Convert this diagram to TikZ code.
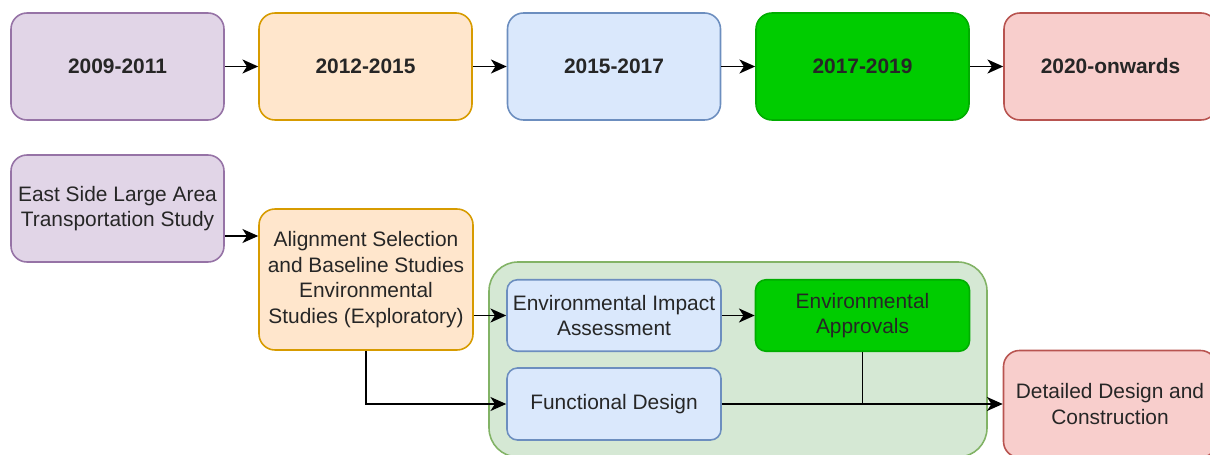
\documentclass[tikz,border=0pt]{standalone}
\usepackage{fontspec}
\setmainfont{Liberation Sans}
\usetikzlibrary{arrows.meta,positioning}
\definecolor{purplefill}{HTML}{E1D5E7}
\definecolor{purpleline}{HTML}{9673A6}
\definecolor{orangefill}{HTML}{FFE6CC}
\definecolor{orangeline}{HTML}{D79B00}
\definecolor{bluefill}{HTML}{DAE8FC}
\definecolor{blueline}{HTML}{6C8EBF}
\definecolor{brightgreen}{HTML}{00CC00}
\definecolor{redfill}{HTML}{F8CECC}
\definecolor{redline}{HTML}{B85450}
\definecolor{groupfill}{HTML}{D5E8D4}
\definecolor{groupline}{HTML}{82B366}
\definecolor{labeltext}{HTML}{262626}

\tikzset{
  yearbox/.style={rounded corners=0.32cm, line width=0.9pt, minimum width=4.26cm, minimum height=2.14cm, align=center, inner sep=2pt, text=labeltext, font=\fontsize{11.9}{14.6}\selectfont\bfseries},
  stagebox/.style={rounded corners=0.32cm, line width=0.9pt, minimum width=4.26cm, minimum height=2.14cm, align=center, inner sep=2pt, text=labeltext},
  smallbox/.style={stagebox, rounded corners=0.21cm, minimum width=4.28cm, minimum height=1.43cm},
  link/.style={->, line width=1pt, black}
}

\begin{document}
\begin{tikzpicture}[font=\fontsize{11.9}{14.6}\selectfont, >={Stealth[length=9pt,width=8pt,inset=2.6pt]}]
\useasboundingbox (0,0) rectangle (24.2,-9.1);

% timeline
\node[yearbox, draw=purpleline, fill=purplefill] (y09) at (2.35,-1.33) {2009-2011};
\node[yearbox, draw=orangeline, fill=orangefill] (y12) at (7.31,-1.33) {2012-2015};
\node[yearbox, draw=blueline, fill=bluefill] (y15) at (12.28,-1.33) {2015-2017};
\node[yearbox, draw=brightgreen!85!black, fill=brightgreen] (y17) at (17.25,-1.33) {2017-2019};
\node[yearbox, draw=redline, fill=redfill] (y20) at (22.21,-1.33) {2020-onwards};

\draw[link] (y09) -- (y12);
\draw[link] (y12) -- (y15);
\draw[link] (y15) -- (y17);
\draw[link] (y17) -- (y20);

% stages
\node[draw=groupline, fill=groupfill, rounded corners=0.58cm, line width=0.9pt, minimum width=9.96cm, minimum height=3.9cm] (phase) at (14.76,-7.19) {};

\node[stagebox, draw=purpleline, fill=purplefill] (eslats) at (2.35,-4.17) {East Side Large Area\\Transportation Study};
\node[stagebox, draw=orangeline, fill=orangefill, minimum width=4.28cm, minimum height=2.82cm] (align) at (7.32,-5.59) {Alignment Selection\\and Baseline Studies\\Environmental\\Studies (Exploratory)};
\node[smallbox, draw=blueline, fill=bluefill] (eia) at (12.28,-6.31) {Environmental Impact\\Assessment};
\node[smallbox, draw=brightgreen!85!black, fill=brightgreen] (ea) at (17.25,-6.31) {Environmental\\Approvals};
\node[smallbox, draw=blueline, fill=bluefill, minimum height=1.44cm] (fd) at (12.28,-8.08) {Functional Design};
\node[stagebox, draw=redline, fill=redfill] (ddc) at (22.2,-8.08) {Detailed Design and\\Construction};

\draw[link] ([yshift=-0.55cm]eslats.east) -- ([yshift=-0.55cm]eslats.east -| align.west);
\draw[link] (align.east |- eia.west) -- (eia.west);
\draw[link] (eia) -- (ea);
\draw[link] (align.south) |- (fd.west);
\draw[link] (fd.east) -- (fd.east -| ddc.west);
\draw[line width=1pt] (ea.south) -- (ea.south |- fd.east);
\end{tikzpicture}
\end{document}
